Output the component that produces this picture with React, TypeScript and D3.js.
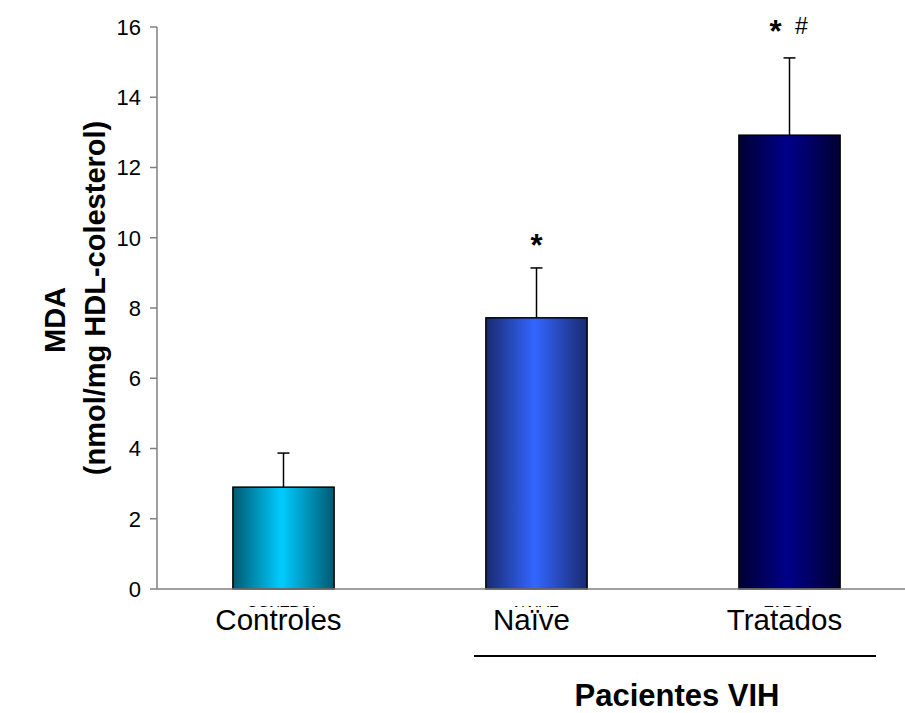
import React from "react";
import * as d3 from "d3";

// MDA in HDL by group (mean ± SEM)
const categories = ["Controles", "Naïve", "Tratados"];
const means = [2.9, 7.72, 12.92];
const sems = [0.97, 1.42, 2.2];
const stars = ["", "*", "*"];
const hashes = ["", "", "#"];
const hiddenLabels = ["CONTROL", "NAIVE", "TARGA"];
const yTicks = [0, 2, 4, 6, 8, 10, 12, 14, 16];

const gradients = [
  { id: "g-controles", edge: "#005a73", mid: "#00ccff" },
  { id: "g-naive", edge: "#1a2a70", mid: "#3366ff" },
  { id: "g-tratados", edge: "#000033", mid: "#000088" },
];

const W = 905;
const H = 713;
const FONT = "'Liberation Sans', Arial, sans-serif";

export default function App() {
  const y = d3.scaleLinear().domain([0, 16]).range([589, 27]);
  const x = d3
    .scaleBand<string>()
    .domain(categories)
    .range([157, 916])
    .paddingInner(0.6)
    .paddingOuter(0.3);
  const bw = x.bandwidth();
  const x0 = x.range()[0];
  const y0 = y(0);
  const cxOf = (c: string) => (x(c) as number) + bw / 2;

  return (
    <svg
      width={W}
      height={H}
      style={{ position: "absolute", left: 0, top: 0, background: "#fff" }}
      fontFamily={FONT}
    >
      <defs>
        {gradients.map((g) => (
          <linearGradient key={g.id} id={g.id} x1="0" x2="1" y1="0" y2="0">
            <stop offset="0%" stopColor={g.edge} />
            <stop offset="48%" stopColor={g.mid} />
            <stop offset="100%" stopColor={g.edge} />
          </linearGradient>
        ))}
        <clipPath id="label-peek">
          <rect x={0} y={600} width={W} height={7} />
        </clipPath>
      </defs>

      {/* bars */}
      {categories.map((c, i) => (
        <rect
          key={c}
          x={x(c)}
          y={y(means[i])}
          width={bw}
          height={y0 - y(means[i])}
          fill={`url(#${gradients[i].id})`}
          stroke="#000"
          strokeWidth={1.5}
        />
      ))}

      {/* error bars */}
      {categories.map((c, i) => {
        const cx = cxOf(c);
        const top = y(means[i] + sems[i]);
        return (
          <g key={c} stroke="#000" strokeWidth={1.5}>
            <line x1={cx} x2={cx} y1={y(means[i])} y2={top} />
            <line x1={cx - 6} x2={cx + 6} y1={top} y2={top} />
          </g>
        );
      })}

      {/* significance marks */}
      {categories.map((c, i) => {
        if (!stars[i] && !hashes[i]) return null;
        const cx = cxOf(c);
        const both = stars[i] && hashes[i];
        const base = y(means[i] + sems[i]) - (both ? 16 : 12);
        return (
          <g key={c} fill="#000">
            <text
              x={both ? cx - 14 : cx}
              y={base}
              textAnchor="middle"
              fontWeight="bold"
              fontSize={31}
            >
              {stars[i]}
            </text>
            {hashes[i] ? (
              <text x={cx + 12} y={base - 8} textAnchor="middle" fontSize={23}>
                {hashes[i]}
              </text>
            ) : null}
          </g>
        );
      })}

      {/* axes */}
      <line x1={x0} x2={W} y1={y0} y2={y0} stroke="#808080" strokeWidth={1.5} />
      <line x1={x0} x2={x0} y1={y(16)} y2={y0} stroke="#808080" strokeWidth={1.5} />
      {yTicks.map((t) => (
        <g key={t}>
          <line x1={x0 - 7} x2={x0} y1={y(t)} y2={y(t)} stroke="#808080" strokeWidth={1.5} />
          <text
            x={x0 - 16}
            y={y(t)}
            dy="0.36em"
            textAnchor="end"
            fontSize={22}
            fill="#000"
          >
            {t}
          </text>
        </g>
      ))}

      {/* older category labels, mostly hidden under the new ones */}
      <g clipPath="url(#label-peek)">
        {categories.map((c, i) => (
          <text
            key={c}
            x={cxOf(c)}
            y={616}
            textAnchor="middle"
            fontSize={15}
            fill="#000"
          >
            {hiddenLabels[i]}
          </text>
        ))}
      </g>

      {/* category labels */}
      {categories.map((c) => (
        <text
          key={c}
          x={cxOf(c) - 5}
          y={630}
          textAnchor="middle"
          fontSize={29.5}
          fill="#000"
        >
          {c}
        </text>
      ))}

      {/* group bracket */}
      <line x1={474} x2={876} y1={656} y2={656} stroke="#000" strokeWidth={2} />
      <text x={677} y={706} textAnchor="middle" fontSize={31} fontWeight="bold" fill="#000">
        Pacientes VIH
      </text>

      {/* y-axis title */}
      <text
        transform="translate(65,320) rotate(-90)"
        textAnchor="middle"
        fontSize={29}
        fontWeight="bold"
        fill="#000"
      >
        MDA
      </text>
      <text
        transform="translate(105,298) rotate(-90)"
        textAnchor="middle"
        fontSize={29}
        fontWeight="bold"
        fill="#000"
      >
        (nmol/mg HDL-colesterol)
      </text>
    </svg>
  );
}
